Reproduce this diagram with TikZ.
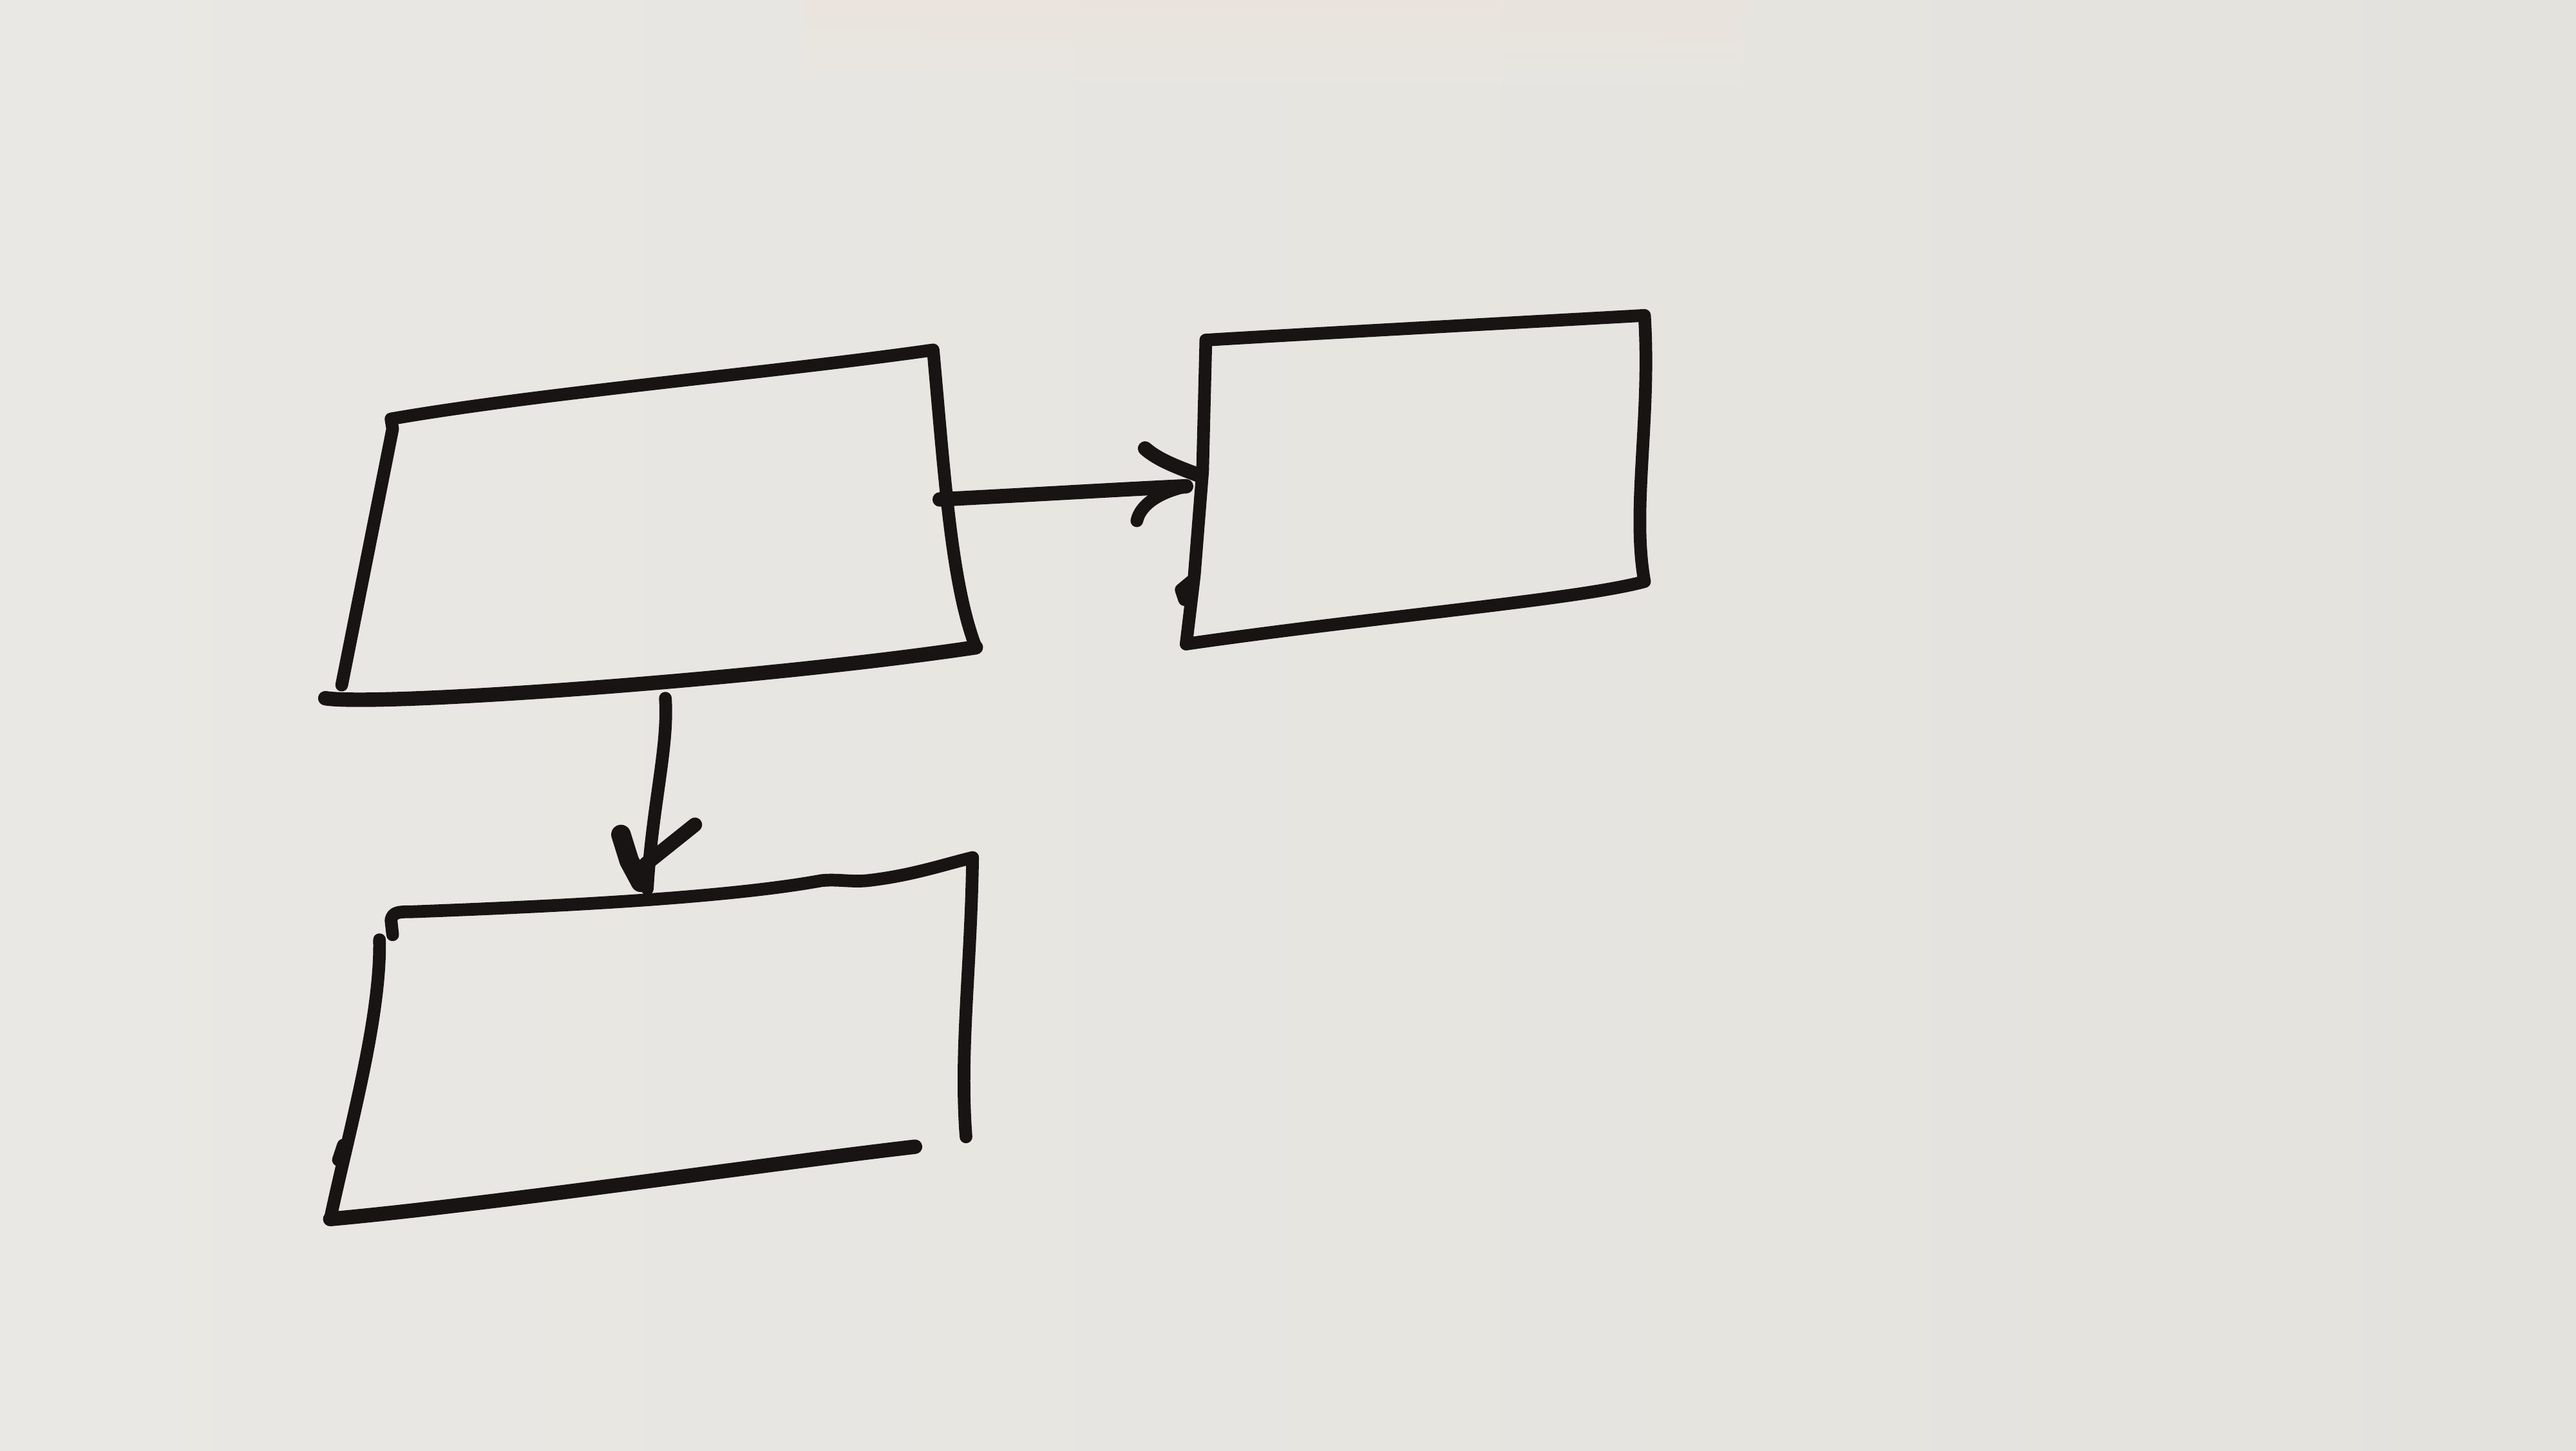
\documentclass[tikz,border=0pt]{standalone}
\definecolor{paperL}{RGB}{234,232,228}
\definecolor{paperR}{RGB}{228,226,221}
\definecolor{peach}{RGB}{238,226,212}
\definecolor{ink}{RGB}{24,20,20}
\tikzset{
  pen/.style={draw=ink,line width=2.2pt,line cap=round,line join=round},
  heavypen/.style={pen,line width=2.5pt},
  blobpen/.style={pen,line width=3.4pt}
}
\begin{document}
\begin{tikzpicture}[x=0.01cm,y=-0.01cm]
% paper
\shade[left color=paperL,right color=paperR] (0,0) rectangle (1568,883);
\shade[top color=peach,bottom color=paperL,opacity=0.35] (490,0) rectangle (1060,50);
\useasboundingbox (0,0) rectangle (1568,883);

% ---------- Box A (top left) ----------
\coordinate (A-tl) at (238,255);
\coordinate (A-tr) at (568,213);
\coordinate (A-br) at (594,394);
\coordinate (A-bl) at (198,425);
\coordinate (A-left) at (208,417);
\draw[pen] (A-left) -- (239,261) -- (A-tl)
  .. controls (330,239) and (470,227) .. (A-tr)
  .. controls (575,290) and (579,355) .. (A-br);
\draw[heavypen] (A-bl) .. controls (230,430) and (460,414) .. (A-br);

% ---------- Box B (right) ----------
\coordinate (B-tl) at (734,207);
\coordinate (B-tr) at (1001,192);
\coordinate (B-br) at (1001,354);
\coordinate (B-bl) at (722,392);
\draw[pen] (B-tl) .. controls (800,203) and (930,196) .. (B-tr)
  .. controls (1005,255) and (993,310) .. (B-br)
  .. controls (960,365) and (840,375) .. (B-bl);
\draw[pen] (B-bl) -- (727,350) -- (732,287) -- (B-tl);
\draw[pen] (725,354) -- (719,359) -- (721,365);

% ---------- Box C (bottom) ----------
\coordinate (C-tl) at (238,558);
\coordinate (C-tr) at (592,522);
\coordinate (C-br) at (588,692);
\coordinate (C-bl) at (201,742);
\coordinate (C-bend) at (557,698);
\draw[pen] (239,569) -- (238,560) .. controls (239,555) and (243,555) .. (250,555)
  .. controls (330,552) and (440,547) .. (500,536)
  .. controls (510,535) and (518,537) .. (528,536)
  .. controls (555,533) and (575,526) .. (C-tr);
\draw[pen] (C-tr) .. controls (591,590) and (584,640) .. (C-br);
\draw[pen] (231,572) .. controls (232,620) and (212,690) .. (C-bl);
\draw[heavypen] (C-bl) .. controls (300,733) and (470,708) .. (C-bend);
\draw[pen] (209,697) -- (206,706);

% ---------- Arrow A -> B ----------
\coordinate (A-out) at (572,304);
\coordinate (B-in) at (722,296);
\draw[heavypen] (A-out) .. controls (630,301) and (680,298) .. (B-in);
\draw[heavypen] (697,273) .. controls (705,280) and (716,284) .. (729,289);
\draw[pen] (692,317) .. controls (694,308) and (704,300) .. (B-in);

% ---------- Arrow A -> C ----------
\coordinate (A-down) at (405,425);
\coordinate (C-in) at (394,541);
\draw[pen] (A-down) .. controls (407,455) and (397,490) .. (C-in);
\draw[blobpen] (378,508) -- (383,524) -- (390,537);
\draw[heavypen] (423,502) -- (393,526);
\end{tikzpicture}
\end{document}
